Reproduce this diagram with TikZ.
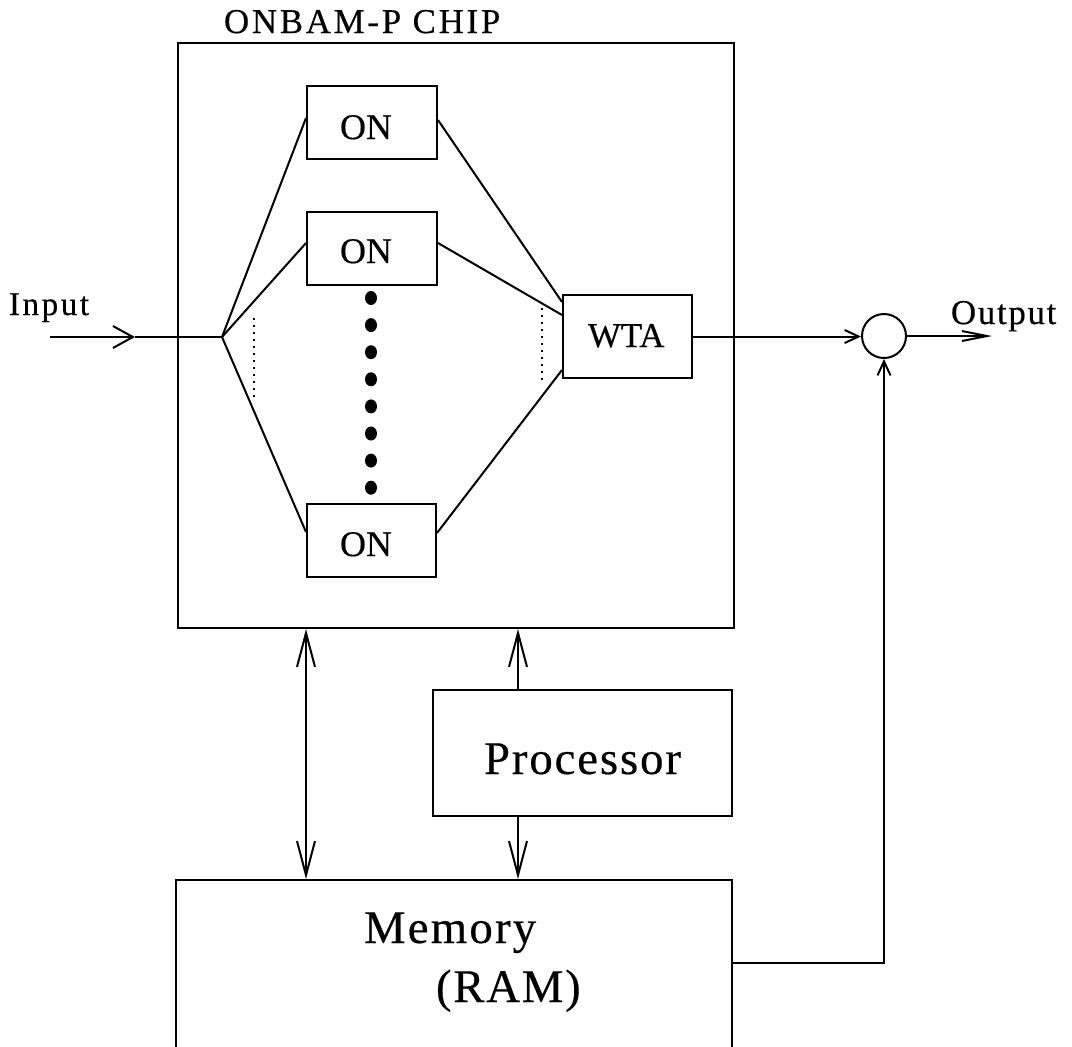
\documentclass[tikz,border=0pt]{standalone}
\usepackage{fontspec}
\setmainfont{Liberation Serif}
\usetikzlibrary{arrows.meta,fit}
% size and letter spacing of a label
\newcommand\labfont[2]{\fontsize{#1}{#1}\selectfont\addfontfeatures{LetterSpace=#2,FakeBold=0.4}}

\tikzset{
  bus/.tip={Straight Barb[length=17pt,width=9pt]},
  intip/.tip={Straight Barb[length=10pt,width=11pt]},
  sumtip/.tip={Straight Barb[length=7pt,width=6.5pt]},
  outtip/.tip={Straight Barb[length=12.5pt,width=5pt]}}

\begin{document}
\begin{tikzpicture}[x=0.5pt,y=-0.5pt,line width=1pt,
  box/.style={draw,inner sep=0pt,fit={#1}},
  txt/.style={anchor=base west,inner sep=0pt},
  dotline/.style={line width=0.9pt,dash pattern=on 1pt off 2.5pt}]

\fill[white] (0,0) rectangle (1072,1046);
\clip (0,0) rectangle (1072,1046);

% chip with its optical neurons and winner-take-all stage
\node[box={(178,43) (734,628)}] (chip) {};
\node[box={(307,86) (437,159)}] (on1) {};
\node[box={(307,212) (437,285)}] (on2) {};
\node[box={(307,504) (436,577)}] (on3) {};
\node[box={(563,295) (692,378)}] (wta) {};

% processor and memory
\node[box={(433,690) (732,816)}] (proc) {};
\node[box={(176,880) (732,1060)}] (mem) {};

% summing junction
\node[draw,circle,minimum size=22pt,inner sep=0pt] (sum) at (884,336) {};

% labels
\node[txt] (ttl) at (223,33) {\labfont{17.4}{8}ONBAM-P CHIP};
\node[txt] (t1) at (339,139) {\labfont{18}{0}ON};
\node[txt] (t2) at (339,263) {\labfont{18}{0}ON};
\node[txt] (t3) at (339,556) {\labfont{18}{0}ON};
\node[txt] (tw) at (587,347) {\labfont{17.4}{0}WTA};
\node[txt] (tin) at (8,315) {\labfont{16.6}{7.5}Input};
\node[txt] (tout) at (950,324) {\labfont{17.4}{5}Output};
\node[txt] (tp) at (483,774) {\labfont{23.4}{4}Processor};
\node[txt] (tm) at (363,943) {\labfont{23.4}{4.7}Memory};
\node[txt] (tr) at (435,1002) {\labfont{23.4}{3.7}(RAM)};

% input line and fan-out
\coordinate (inS) at (50,337);
\coordinate (inTip) at (135,337);
\coordinate (fan) at (222,337);
\draw[-{intip}] (inS) -- (inTip);
\draw (inTip) -- (fan);
\draw (fan) -- ([yshift=2.25pt]on1.west);
\draw (fan) -- ([yshift=2.75pt]on2.west);
\draw (fan) -- ([yshift=4.25pt]on3.west);

% neurons into the WTA
\draw ([yshift=1.25pt]on1.east) -- ([yshift=17.25pt]wta.west);
\draw ([yshift=2.75pt]on2.east) -- ([yshift=10.75pt]wta.west);
\draw ([yshift=3.75pt]on3.east) -- ([yshift=-16.75pt]wta.west);

% elided neurons
\draw[dotline] (254,318) -- (254,398);
\draw[dotline] (542,308) -- (542,385);
\foreach \k in {0,...,7}
  \fill (371,{298+27.1*\k}) ellipse (3pt and 3.5pt);

% output path
\draw[-{sumtip}] (wta.east) -- (wta.east -| sum.west);
\coordinate (outE) at (992,336);
\draw[-{outtip}] (sum.east) -- (outE);
\draw[-{sumtip}] ([yshift=3.5pt]mem.east) -| (sum.south);

% buses
\draw[{bus}-{bus}] ([xshift=-75pt]chip.south) -- ([xshift=-75pt]chip.south |- mem.north);
\draw[-{bus}] ([xshift=-32.25pt]proc.north) -- ([xshift=-32.25pt]proc.north |- chip.south);
\draw[-{bus}] ([xshift=-32.25pt]proc.south) -- ([xshift=-32.25pt]proc.south |- mem.north);
\end{tikzpicture}
\end{document}
